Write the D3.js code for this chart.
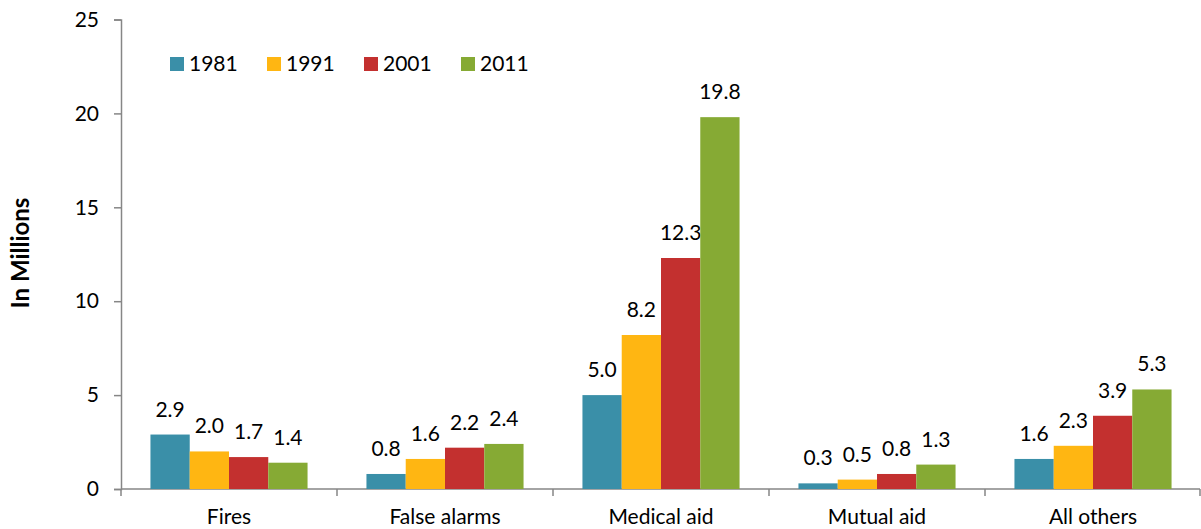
<!DOCTYPE html>
<meta charset="utf-8">
<style>
body { margin: 0; background: #fff; }
svg text { font-family: Lato, "Open Sans", sans-serif; fill: #000; }
.axis path, .axis line { stroke: #868686; stroke-width: 1.5; }
</style>
<svg width="1201" height="529"></svg>
<script src="https://d3js.org/d3.v7.min.js"></script>
<script>

// data
var categories = ["Fires", "False alarms", "Medical aid", "Mutual aid", "All others"];
var years = ["1981", "1991", "2001", "2011"];
var v1981 = [2.9, 0.8, 5.0, 0.3, 1.6];
var v1991 = [2.0, 1.6, 8.2, 0.5, 2.3];
var v2001 = [1.7, 2.2, 12.3, 0.8, 3.9];
var v2011 = [1.4, 2.4, 19.8, 1.3, 5.3];
var yTicks = [0, 5, 10, 15, 20, 25];

var colours = ["#3a8fa8", "#ffb612", "#c3302f", "#86aa34"];
var series = [v1981, v1991, v2001, v2011];

var svg = d3.select("svg");

var plotLeft = 121, plotRight = 1201, plotTop = 19.5, plotBottom = 489;
var fontSize = "21px";

var x0 = d3.scaleBand().domain(categories).range([plotLeft, plotRight]);
var x1 = d3.scaleBand().domain(years).range([0, x0.bandwidth()]).paddingOuter(0.75);
var y = d3.scaleLinear().domain([0, 25]).range([plotBottom, plotTop]);

// y axis
var yAxis = svg.append("g")
    .attr("class", "axis")
    .attr("transform", "translate(" + plotLeft + ",0)")
    .call(d3.axisLeft(y).tickValues(yTicks).tickSize(7).tickSizeOuter(7).tickPadding(15));
yAxis.selectAll("text").style("font-size", fontSize).style("font-family", "Lato");

// x axis: ticks at category borders pointing down
var xg = svg.append("g").attr("class", "axis");
xg.append("line")
    .attr("x1", plotLeft).attr("x2", plotRight - 1)
    .attr("y1", plotBottom).attr("y2", plotBottom);
var borders = categories.map(function(c) { return x0(c); }).concat([plotRight - 1]);
xg.selectAll("line.tick")
    .data(borders)
    .enter().append("line")
    .attr("class", "tick")
    .attr("x1", function(d) { return d; }).attr("x2", function(d) { return d; })
    .attr("y1", plotBottom).attr("y2", plotBottom + 7);

xg.selectAll("text")
    .data(categories)
    .enter().append("text")
    .attr("x", function(d) { return x0(d) + x0.bandwidth() / 2; })
    .attr("y", 524)
    .attr("text-anchor", "middle")
    .style("font-size", fontSize)
    .text(function(d) { return d; });

// bars
var rows = [];
categories.forEach(function(c, i) {
  years.forEach(function(yr, j) {
    rows.push({cat: c, year: yr, value: series[j][i], colour: colours[j]});
  });
});

var bars = svg.append("g").selectAll("g")
    .data(rows)
    .enter().append("g");

bars.append("rect")
    .attr("x", function(d) { return x0(d.cat) + x1(d.year); })
    .attr("y", function(d) { return y(d.value); })
    .attr("width", x1.bandwidth())
    .attr("height", function(d) { return plotBottom - y(d.value); })
    .attr("fill", function(d) { return d.colour; });

bars.append("text")
    .attr("x", function(d) { return x0(d.cat) + x1(d.year) + x1.bandwidth() / 2; })
    .attr("y", function(d) { return y(d.value) - 18; })
    .attr("text-anchor", "middle")
    .style("font-size", fontSize)
    .text(function(d) { return d.value.toFixed(1); });

// y title
svg.append("text")
    .attr("transform", "translate(29,253) rotate(-90)")
    .attr("text-anchor", "middle")
    .style("font-size", "24px")
    .style("font-weight", "bold")
    .text("In Millions");

// legend
var legend = svg.append("g").selectAll("g")
    .data(years)
    .enter().append("g")
    .attr("transform", function(d, i) { return "translate(" + (170 + i * 97) + ",57)"; });

legend.append("rect")
    .attr("width", 14).attr("height", 14)
    .attr("fill", function(d, i) { return colours[i]; });

legend.append("text")
    .attr("x", 19).attr("y", 7)
    .attr("dy", "0.35em")
    .style("font-size", fontSize)
    .text(function(d) { return d; });

</script>
